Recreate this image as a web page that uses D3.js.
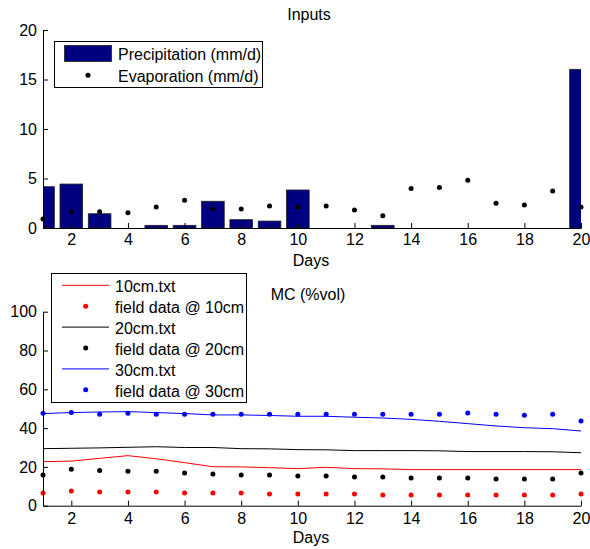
<!DOCTYPE html>
<html>
<head>
<meta charset="utf-8">
<script src="https://cdn.jsdelivr.net/npm/d3@7"></script>
<style>
  body { margin: 0; background: #fff; }
  svg { display: block; font-family: "Liberation Sans", Arial, sans-serif; }
</style>
</head>
<body>
<svg id="chart" width="590" height="549"></svg>
<script>
// ---- data ----
const days = d3.range(1, 21);
const precipitation = [4.17, 4.44, 1.44, 0, 0.27, 0.27, 2.7, 0.84, 0.7, 3.84, 0, 0, 0.27, 0, 0, 0, 0, 0, 0, 16.03];
const evaporation = [0.91, 1.65, 1.65, 1.55, 2.12, 2.8, 1.92, 1.92, 2.22, 2.12, 2.22, 1.82, 1.24, 4.0, 4.1, 4.82, 2.5, 2.32, 3.74, 2.12];

const sim10 = [22.7, 23.0, 24.4, 25.8, 24.2, 22.2, 20.1, 20.0, 19.6, 19.1, 19.8, 19.1, 19.0, 18.6, 18.6, 18.6, 18.6, 18.6, 18.6, 18.6];
const field10 = [6.5, 7.6, 7.1, 7.1, 7.1, 6.5, 6.5, 6.5, 6.0, 6.0, 6.0, 6.0, 5.5, 5.5, 5.5, 5.5, 5.5, 5.5, 5.5, 6.0];
const sim20 = [29.4, 29.6, 29.8, 30.1, 30.4, 30.0, 30.0, 29.4, 29.3, 28.9, 28.8, 28.4, 28.4, 28.4, 28.3, 27.9, 27.9, 27.9, 27.8, 27.3];
const field20 = [15.8, 18.8, 18.2, 17.7, 17.7, 16.9, 16.3, 15.8, 15.8, 15.3, 15.3, 14.8, 14.8, 14.3, 14.3, 14.3, 13.8, 13.8, 13.8, 16.9];
const sim30 = [47.5, 48.0, 48.3, 48.5, 48.0, 47.5, 46.8, 46.8, 46.5, 46.1, 46.1, 45.6, 45.2, 44.5, 43.5, 42.3, 41.1, 40.2, 39.7, 38.5];
const field30 = [47.6, 48.1, 47.1, 47.6, 47.1, 47.1, 47.1, 47.1, 47.1, 47.1, 47.1, 47.1, 47.1, 47.1, 47.1, 47.8, 47.1, 46.6, 47.2, 43.7];

const xTicks = [2, 4, 6, 8, 10, 12, 14, 16, 18, 20];
const yTicksTop = [0, 5, 10, 15, 20];
const yTicksBottom = [0, 20, 40, 60, 80, 100];

const topLegend = ["Precipitation (mm/d)", "Evaporation (mm/d)"];
const bottomSeries = [
  { name: "10cm.txt", type: "line", color: "#ff0000", values: sim10 },
  { name: "field data @ 10cm", type: "dot", color: "#ff0000", values: field10 },
  { name: "20cm.txt", type: "line", color: "#000000", values: sim20 },
  { name: "field data @ 20cm", type: "dot", color: "#000000", values: field20 },
  { name: "30cm.txt", type: "line", color: "#0000ff", values: sim30 },
  { name: "field data @ 30cm", type: "dot", color: "#0000ff", values: field30 }
];

// ---- layout ----
const svg = d3.select("#chart");
const FS = 16;
const left = 43, right = 581;

const x = d3.scaleLinear().domain([1, 20]).range([left, right]);
const yTop = d3.scaleLinear().domain([0, 20]).range([228, 30]);
const yBot = d3.scaleLinear().domain([0, 100]).range([505.7, 311.7]);

function styleAxis(g) {
  g.selectAll("path").attr("stroke", "#000").attr("stroke-width", 1);
  g.selectAll("line").attr("stroke", "#000");
  g.selectAll("text").attr("font-size", FS).attr("fill", "#000")
    .attr("font-family", "'Liberation Sans', Arial, sans-serif");
}

// ---------- Top panel ----------
svg.append("clipPath").attr("id", "clipTop").append("rect")
  .attr("x", left).attr("y", 0).attr("width", right - left).attr("height", 229);

const barW = x(1.8) - x(1);
svg.append("g").attr("clip-path", "url(#clipTop)")
  .selectAll("rect").data(days).join("rect")
  .attr("x", d => x(d) - barW / 2)
  .attr("y", (d, i) => yTop(precipitation[i]))
  .attr("width", barW)
  .attr("height", (d, i) => yTop(0) - yTop(precipitation[i]))
  .attr("fill", "#000080")
  .attr("stroke", "#222")
  .attr("stroke-width", 0.8);

svg.append("g").selectAll("circle").data(days).join("circle")
  .attr("cx", d => x(d))
  .attr("cy", (d, i) => yTop(evaporation[i]))
  .attr("r", 2.5)
  .attr("fill", "#000");

svg.append("g").attr("transform", `translate(0,${yTop(0)})`)
  .call(d3.axisBottom(x).tickValues(xTicks).tickSizeInner(-5).tickSizeOuter(0).tickPadding(6).tickFormat(d3.format("d")))
  .call(styleAxis);
svg.append("g").attr("transform", `translate(${left},0)`)
  .call(d3.axisLeft(yTop).tickValues(yTicksTop).tickSizeInner(-5).tickSizeOuter(0).tickPadding(6).tickFormat(d3.format("d")))
  .call(styleAxis);

svg.append("text").attr("x", 309).attr("y", 19.5).attr("text-anchor", "middle")
  .attr("font-size", FS).text("Inputs");
svg.append("text").attr("x", 311).attr("y", 265.5).attr("text-anchor", "middle")
  .attr("font-size", FS).text("Days");

// top legend
const lg1 = svg.append("g");
lg1.append("rect").attr("x", 54.5).attr("y", 41.5).attr("width", 208).attr("height", 46)
  .attr("fill", "#fff").attr("stroke", "#000");
lg1.append("rect").attr("x", 64.5).attr("y", 45.5).attr("width", 47).attr("height", 16)
  .attr("fill", "#000080").attr("stroke", "#222").attr("stroke-width", 0.8);
lg1.append("circle").attr("cx", 88).attr("cy", 75.3).attr("r", 2.5).attr("fill", "#000");
lg1.selectAll("text").data(topLegend).join("text")
  .attr("x", 118).attr("y", (d, i) => 60 + i * 22.3)
  .attr("font-size", FS).text(d => d);

// ---------- Bottom panel ----------
const line = d3.line().x((d, i) => x(days[i])).y(d => yBot(d));
bottomSeries.forEach(s => {
  if (s.type === "line") {
    svg.append("path").datum(s.values)
      .attr("d", line).attr("fill", "none")
      .attr("stroke", s.color).attr("stroke-width", 1);
  } else {
    svg.append("g").selectAll("circle").data(s.values).join("circle")
      .attr("cx", (d, i) => x(days[i]))
      .attr("cy", d => yBot(d))
      .attr("r", 2.5)
      .attr("fill", s.color);
  }
});

svg.append("g").attr("transform", `translate(0,${yBot(0)})`)
  .call(d3.axisBottom(x).tickValues(xTicks).tickSizeInner(-5).tickSizeOuter(0).tickPadding(7).tickFormat(d3.format("d")))
  .call(styleAxis);
svg.append("g").attr("transform", `translate(${left},0)`)
  .call(d3.axisLeft(yBot).tickValues(yTicksBottom).tickSizeInner(-5).tickSizeOuter(0).tickPadding(6).tickFormat(d3.format("d")))
  .call(styleAxis);

svg.append("text").attr("x", 308).attr("y", 299.5).attr("text-anchor", "middle")
  .attr("font-size", FS).text("MC (%vol)");
svg.append("text").attr("x", 311).attr("y", 543.3).attr("text-anchor", "middle")
  .attr("font-size", FS).text("Days");

// bottom legend
const lg2 = svg.append("g");
lg2.append("rect").attr("x", 51.5).attr("y", 273.5).attr("width", 195).attr("height", 129)
  .attr("fill", "#fff").attr("stroke", "#000");
bottomSeries.forEach((s, i) => {
  const base = 292.3 + i * 20.9;
  const cy = base - 7;
  if (s.type === "line") {
    lg2.append("line").attr("x1", 62).attr("x2", 109).attr("y1", cy).attr("y2", cy)
      .attr("stroke", s.color).attr("stroke-width", 1);
  } else {
    lg2.append("circle").attr("cx", 85.7).attr("cy", cy).attr("r", 2.5).attr("fill", s.color);
  }
  lg2.append("text").attr("x", 115).attr("y", base).attr("font-size", FS).text(s.name);
});
</script>
</body>
</html>
